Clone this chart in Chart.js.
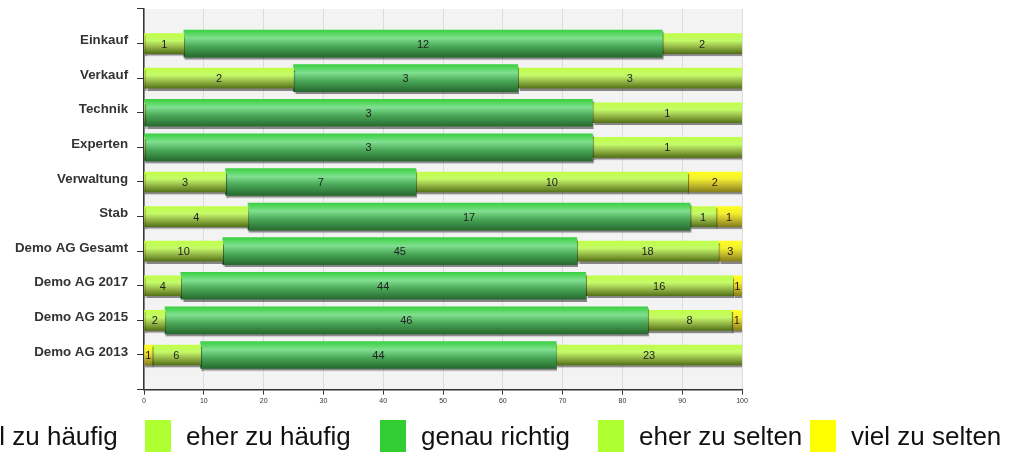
<!DOCTYPE html>
<html>
<head>
<meta charset="utf-8">
<script src="https://cdn.jsdelivr.net/npm/chart.js@4/dist/chart.umd.min.js"></script>
<style>
html,body{margin:0;padding:0;background:#fff;overflow:hidden;}
#wrap{position:relative;width:1009px;height:452px;overflow:hidden;}
#c{position:absolute;left:0;top:-8px;}
.lg{position:absolute;top:420px;height:40px;white-space:nowrap;font-family:"Liberation Sans",Arial,sans-serif;font-size:26px;color:#111;}
.lg .box{position:absolute;left:0;top:0;width:26px;height:40px;}
.lg .txt{position:absolute;left:41px;top:1px;line-height:normal;}
</style>
</head>
<body>
<div id="wrap">
<canvas id="c" width="1009" height="460"></canvas>
<div id="legend"></div>
</div>
<script>
// ---- data ----
const categories = ['Einkauf','Verkauf','Technik','Experten','Verwaltung','Stab','Demo AG Gesamt','Demo AG 2017','Demo AG 2015','Demo AG 2013'];
const seriesNames = ['viel zu häufig','eher zu häufig','genau richtig','eher zu selten','viel zu selten'];
const vielZuHaeufig = [0,0,0,0,0,0,0,0,0,1];
const eherZuHaeufig = [1,2,0,0,3,4,10,4,2,6];
const genauRichtig  = [12,3,3,3,7,17,45,44,46,44];
const eherZuSelten  = [2,3,1,1,10,1,18,16,8,23];
const vielZuSelten  = [0,0,0,0,2,1,3,1,1,0];
const legendColors = ['#ffff00','#adff2f','#32cd32','#adff2f','#ffff00'];
const legendLeft = [-75,145,380,598,810];

const counts = [vielZuHaeufig,eherZuHaeufig,genauRichtig,eherZuSelten,vielZuSelten];
const totals = categories.map((_,i)=>counts.reduce((s,a)=>s+a[i],0));
const labels = ['', ...categories, ''];
const pad = arr => [null, ...arr, null];
const pct = arr => pad(arr.map((v,i)=>v/totals[i]*100));

const stopsYellow = [[0,'#ffff20'],[0.35,'#f2ee30'],[0.7,'#bcb22a'],[1,'#85801a']];
const stopsLight  = [[0,'#c0ff48'],[0.35,'#c4fa6a'],[0.62,'#9cc04c'],[1,'#557218']];
const stopsGreen  = [[0,'#3ad040'],[0.3,'#80e090'],[0.6,'#4aa858'],[1,'#26692e']];

function grad(stops, thick){
  return (c)=>{
    const chart=c.chart, ys=chart.scales.y;
    if(!ys || c.dataIndex===undefined) return stops[1][1];
    const y = ys.getPixelForValue(c.dataIndex);
    if(!isFinite(y)) return stops[1][1];
    const g = chart.ctx.createLinearGradient(0,y-thick/2,0,y+thick/2);
    stops.forEach(s=>g.addColorStop(s[0],s[1]));
    return g;
  };
}
const thin=20, thick=27;
const styles = [[stopsYellow,thin],[stopsLight,thin],[stopsGreen,thick],[stopsLight,thin],[stopsYellow,thin]];

const datasets = counts.map((arr,k)=>({
  label: seriesNames[k],
  data: pct(arr),
  counts: pad(arr),
  backgroundColor: grad(styles[k][0], styles[k][1]),
  barThickness: styles[k][1],
  borderWidth: 0
}));

const bgPlugin = {
  id:'bg',
  beforeDraw(chart){
    const {ctx, chartArea:a} = chart;
    ctx.save(); ctx.fillStyle='#f3f3f3';
    ctx.fillRect(a.left,a.top,a.right-a.left,a.bottom-a.top);
    ctx.restore();
  }
};
const shadowPlugin = {
  id:'shadow',
  beforeDatasetDraw(chart){
    const ctx=chart.ctx; ctx.save();
    ctx.shadowColor='rgba(0,0,0,0.45)'; ctx.shadowOffsetX=1; ctx.shadowOffsetY=2; ctx.shadowBlur=1;
  },
  afterDatasetDraw(chart){ chart.ctx.restore(); }
};
const labelPlugin = {
  id:'vals',
  afterDatasetsDraw(chart){
    const ctx=chart.ctx;
    ctx.save();
    ctx.font='11px "Liberation Sans", Arial, sans-serif';
    ctx.textAlign='center'; ctx.textBaseline='middle';
    chart.data.datasets.forEach((ds,k)=>{
      const meta=chart.getDatasetMeta(k);
      meta.data.forEach((el,i)=>{
        const v=ds.counts[i];
        if(!v) return;
        ctx.fillStyle = (k===0||k===4) ? '#3a1010' : '#222';
        ctx.fillText(String(v),(el.x+el.base)/2, el.y+1);
      });
    });
    ctx.restore();
  }
};

new Chart(document.getElementById('c'),{
  type:'bar',
  data:{labels, datasets},
  options:{
    indexAxis:'y',
    responsive:false,
    animation:false,
    layout:{padding:{left:6,right:267,top:0,bottom:45}},
    plugins:{legend:{display:false},tooltip:{enabled:false}},
    scales:{
      x:{
        stacked:true, min:0, max:100,
        ticks:{stepSize:10, font:{size:7,family:'"Liberation Sans", Arial, sans-serif'}, color:'#333', padding:2, maxRotation:0},
        grid:{color:'#dcdcdc', tickColor:'#333', tickLength:5},
        border:{color:'#333', width:1.5}
      },
      y:{
        stacked:true, offset:false,
        ticks:{font:{size:13.3,weight:'bold',family:'"Liberation Sans", Arial, sans-serif'}, color:'#333', padding:9, autoSkip:false, labelOffset:-3},
        grid:{drawOnChartArea:false, offset:false, color:'#333', tickLength:7},
        border:{color:'#333', width:1.5}
      }
    }
  },
  plugins:[bgPlugin, shadowPlugin, labelPlugin]
});

// legend
const lg=document.getElementById('legend');
seriesNames.forEach((n,k)=>{
  const d=document.createElement('div'); d.className='lg'; d.style.left=legendLeft[k]+'px';
  d.innerHTML='<div class="box" style="background:'+legendColors[k]+'"></div><div class="txt">'+n+'</div>';
  lg.appendChild(d);
});
</script>
</body>
</html>
